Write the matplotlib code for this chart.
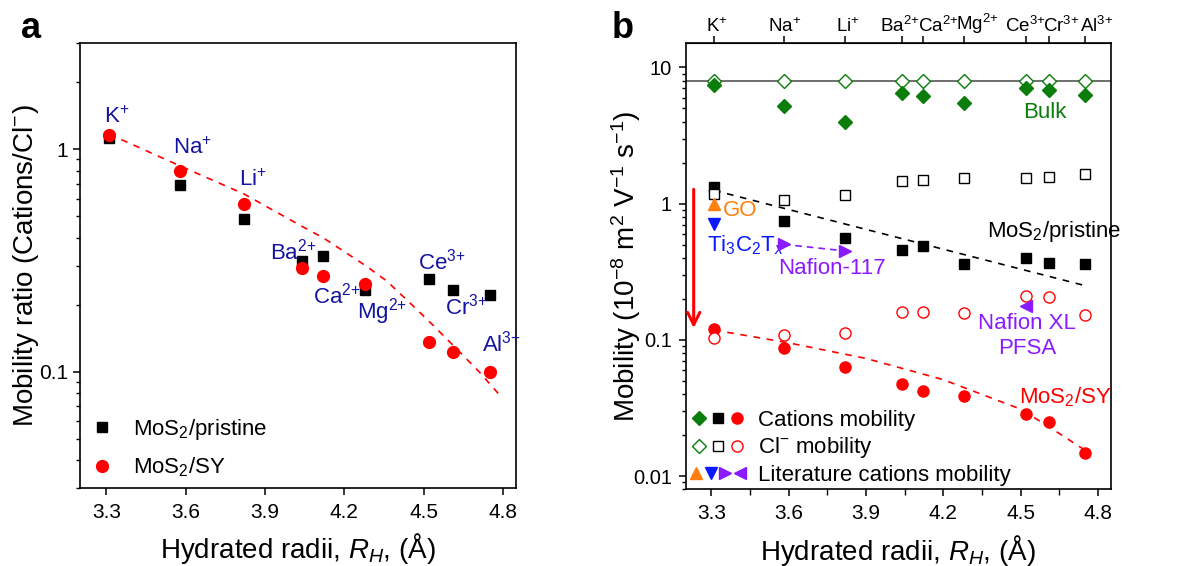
import matplotlib
matplotlib.use("Agg")
import matplotlib.pyplot as plt
from matplotlib.legend_handler import HandlerTuple
from matplotlib.ticker import FixedLocator, NullFormatter, FuncFormatter
from matplotlib.transforms import ScaledTranslation

plt.rcParams["font.family"] = ["Liberation Sans", "DejaVu Sans"]
plt.rcParams["mathtext.fontset"] = "custom"
plt.rcParams["mathtext.rm"] = "Liberation Sans"
plt.rcParams["mathtext.it"] = "Liberation Sans:italic"
plt.rcParams["mathtext.bf"] = "Liberation Sans:bold"

# ---- data ----
ions = ["K$^{\\text{+}}$", "Na$^{\\text{+}}$", "Li$^{\\text{+}}$",
        "Ba$^{\\text{2+}}$", "Ca$^{\\text{2+}}$", "Mg$^{\\text{2+}}$",
        "Ce$^{\\text{3+}}$", "Cr$^{\\text{3+}}$", "Al$^{\\text{3+}}$"]
radii = [3.31, 3.58, 3.82, 4.04, 4.12, 4.28, 4.52, 4.61, 4.75]

# panel a: mobility ratio cations / Cl-
ratio_pristine = [1.12, 0.69, 0.485, 0.315, 0.33, 0.233, 0.262, 0.234, 0.221]
ratio_sy = [1.16, 0.80, 0.57, 0.294, 0.268, 0.247, 0.1355, 0.1226, 0.100]
fit_a_x = [3.31, 3.58, 3.82, 4.04, 4.12, 4.28, 4.36, 4.45, 4.54, 4.63, 4.71, 4.79]
fit_a_y = [1.17, 0.84, 0.63, 0.45, 0.40, 0.30, 0.256, 0.203, 0.160, 0.125, 0.100, 0.078]
# label anchor positions for the ion names in panel a
ion_lab_x = [3.29, 3.552, 3.803, 3.92, 4.082, 4.248, 4.479, 4.581, 4.72]
ion_lab_y = [1.40, 1.01, 0.726, 0.346, 0.221, 0.186, 0.312, 0.196, 0.134]

# panel b: mobilities (1e-8 m2 V-1 s-1)
bulk_cation = [7.46, 5.16, 3.97, 6.49, 6.13, 5.47, 7.06, 6.86, 6.30]
bulk_cl = [7.9] * 9
bulk_line = 7.9
pristine_cation = [1.32, 0.74, 0.558, 0.459, 0.488, 0.362, 0.401, 0.366, 0.362]
pristine_cl = [1.18, 1.07, 1.16, 1.47, 1.48, 1.54, 1.54, 1.57, 1.66]
sy_cation = [0.120, 0.087, 0.0637, 0.0472, 0.0422, 0.0388, 0.0286, 0.0248, 0.0149]
sy_cl = [0.104, 0.109, 0.113, 0.160, 0.159, 0.157, 0.211, 0.205, 0.151]
fit_pristine_x = [3.31, 4.75]
fit_pristine_y = [1.25, 0.25]
fit_sy_x = [3.31, 3.6, 3.9, 4.2, 4.5, 4.61, 4.75]
fit_sy_y = [0.118, 0.095, 0.073, 0.051, 0.031, 0.023, 0.0155]

# literature cation mobilities
go_xy = (3.31, 1.00)
ti3c2tx_xy = (3.31, 0.713)
nafion117_x = [3.58, 3.82]
nafion117_y = [0.502, 0.449]
nafionxl_xy = (4.52, 0.176)

# top-axis labels are nudged sideways in the original so they don't collide (points)
top_label_shift = [2, 1, 1.5, -1.5, 11, 9.5, 0, 8.5, 8.5]

C_GREEN = "#0a7d0a"
C_RED = "#ff0000"
C_NAVY = "#1414a0"
C_ORANGE = "#ff7f0e"
C_BLUE = "#0a1aff"
C_PURPLE = "#8a1aff"

fig = plt.figure(figsize=(11.79, 5.66), dpi=100)
ax_a = fig.add_axes([0.0679, 0.1378, 0.3698, 0.786])
ax_b = fig.add_axes([0.5816, 0.1355, 0.3605, 0.788])

for ax in (ax_a, ax_b):
    for s in ax.spines.values():
        s.set_linewidth(1.2)
    ax.set_yscale("log")
    ax.set_xlim(3.2, 4.85)
    ax.set_xticks([3.3, 3.6, 3.9, 4.2, 4.5, 4.8])
    ax.xaxis.set_major_formatter(FuncFormatter(lambda v, p: f"{v:.1f}"))
    ax.tick_params(axis="both", which="major", direction="out", length=5,
                   width=1.1, labelsize=15, top=False, right=False)
    ax.tick_params(axis="x", which="major", pad=5.5)
    ax.tick_params(axis="both", which="minor", direction="out", length=3,
                   width=1.0, top=False, right=False)
    ax.yaxis.set_minor_formatter(NullFormatter())
    ax.set_xlabel("Hydrated radii, $R_H$, (Å)", fontsize=20, labelpad=7)

# ---------------- panel a ----------------
ax_a.set_ylim(0.03, 3)
ax_a.yaxis.set_major_locator(FixedLocator([0.1, 1]))
ax_a.yaxis.set_major_formatter(FuncFormatter(lambda v, p: f"{v:g}"))
ax_a.plot(fit_a_x, fit_a_y, ls=(0, (4, 4)), color=C_RED, lw=1.2, zorder=2)
ax_a.plot(radii, ratio_pristine, ls="none", marker="s", ms=7, color="black",
          label="MoS$_2$/pristine", zorder=3)
ax_a.plot(radii, ratio_sy, ls="none", marker="o", ms=8.5, color=C_RED,
          label="MoS$_2$/SY", zorder=4)
for lab, lx, ly in zip(ions, ion_lab_x, ion_lab_y):
    ax_a.text(lx, ly, lab, color=C_NAVY, fontsize=16, ha="left", va="center")
ax_a.set_ylabel("Mobility ratio (Cations/Cl$^{-}$)", fontsize=20)
ax_a.yaxis.set_label_coords(-0.089, 0.5)
ax_a.legend(loc="lower left", bbox_to_anchor=(0.0, 0.02), frameon=False,
            fontsize=16, numpoints=1, handlelength=2.0, handletextpad=0.4,
            labelspacing=0.6, borderpad=0, borderaxespad=0)

# ---------------- panel b ----------------
ax_b.set_ylim(0.008, 15)
ax_b.yaxis.set_major_locator(FixedLocator([0.01, 0.1, 1, 10]))
ax_b.yaxis.set_major_formatter(FuncFormatter(lambda v, p: f"{v:g}"))
ax_b.tick_params(axis="y", which="major", labelsize=14.5, pad=5)
ax_b.set_xticks([3.45, 3.75, 4.05, 4.35, 4.65], minor=True)
ax_b.tick_params(axis="x", which="minor", length=4)

ax_b.axhline(bulk_line, color="#555555", lw=1.2, zorder=1)
ax_b.plot(fit_pristine_x, fit_pristine_y, ls=(0, (4, 4)), color="black", lw=1.2, zorder=2)
ax_b.plot(fit_sy_x, fit_sy_y, ls=(0, (4, 4)), color=C_RED, lw=1.2, zorder=2)

h_gd, = ax_b.plot(radii, bulk_cation, ls="none", marker="D", ms=7, color=C_GREEN, zorder=3)
h_od, = ax_b.plot(radii, bulk_cl, ls="none", marker="D", ms=7, mfc="white",
                  mec=C_GREEN, mew=1.0, color=C_GREEN, zorder=2.5)
h_bs, = ax_b.plot(radii, pristine_cation, ls="none", marker="s", ms=7, color="black", zorder=3)
h_os, = ax_b.plot(radii, pristine_cl, ls="none", marker="s", ms=7, mfc="white",
                  mec="black", mew=1.0, zorder=3.5)
h_rc, = ax_b.plot(radii, sy_cation, ls="none", marker="o", ms=8, color=C_RED, zorder=3)
h_oc, = ax_b.plot(radii, sy_cl, ls="none", marker="o", ms=8, mfc="white",
                  mec=C_RED, mew=1.0, zorder=3)

h_go, = ax_b.plot(*go_xy, ls="none", marker="^", ms=8, color=C_ORANGE, zorder=4)
h_ti, = ax_b.plot(*ti3c2tx_xy, ls="none", marker="v", ms=8, color=C_BLUE, zorder=4)
ax_b.plot(nafion117_x, nafion117_y, ls=(0, (4, 3)), color=C_PURPLE, lw=1.2, zorder=3)
h_nr, = ax_b.plot(nafion117_x, nafion117_y, ls="none", marker=">", ms=8,
                  color=C_PURPLE, zorder=4)
h_nl, = ax_b.plot(*nafionxl_xy, ls="none", marker="<", ms=8, color=C_PURPLE, zorder=4)

ax_b.annotate("", xy=(3.231, 0.122), xytext=(3.231, 1.27),
              arrowprops=dict(arrowstyle="->", color=C_RED, lw=2.2,
                              mutation_scale=22, shrinkA=0, shrinkB=0))

ax_b.text(3.345, 0.893, "GO", color=C_ORANGE, fontsize=16, ha="left", va="center")
ax_b.text(3.283, 0.494, "Ti$_3$C$_2$T$_x$", color=C_BLUE, fontsize=16,
          ha="left", va="center")
ax_b.text(3.56, 0.336, "Nafion-117", color=C_PURPLE, fontsize=16,
          ha="left", va="center")
ax_b.text(4.525, 0.107, "Nafion XL\nPFSA", color=C_PURPLE, fontsize=16,
          ha="center", va="center", linespacing=1.25)
ax_b.text(4.51, 4.62, "Bulk", color=C_GREEN, fontsize=16, ha="left", va="center")
ax_b.text(4.37, 0.626, "MoS$_2$/pristine", color="black", fontsize=16,
          ha="left", va="center")
ax_b.text(4.495, 0.038, "MoS$_2$/SY", color=C_RED, fontsize=16,
          ha="left", va="center")

ax_b.set_ylabel("Mobility (10$^{-8}$ m$^2$ V$^{-1}$ s$^{-1}$)", fontsize=20)
ax_b.yaxis.set_label_coords(-0.100, 0.5)

top = ax_b.secondary_xaxis("top")
top.set_xticks(radii)
top.set_xticklabels(ions)
top.tick_params(direction="out", length=5, width=1.1, labelsize=13.5, pad=0)
top.xaxis.set_minor_locator(FixedLocator([]))
for lab, dx in zip(top.get_xticklabels(), top_label_shift):
    lab.set_transform(lab.get_transform()
                      + ScaledTranslation(dx / 72, 0, fig.dpi_scale_trans))

leg_handles = [(h_gd, h_bs, h_rc), (h_od, h_os, h_oc), (h_go, h_ti, h_nr, h_nl)]
leg_labels = ["Cations mobility", "Cl$^{-}$ mobility", "Literature cations mobility"]
ax_b.legend(leg_handles, leg_labels, loc="lower left", bbox_to_anchor=(0.008, 0.008),
            frameon=False, fontsize=16, numpoints=1, handlelength=2.6,
            handletextpad=0.5, labelspacing=0.2, borderpad=0, borderaxespad=0,
            handler_map={tuple: HandlerTuple(ndivide=None, pad=0)})

fig.text(0.018, 0.95, "a", fontsize=26, fontweight="bold", ha="left", va="center")
fig.text(0.519, 0.95, "b", fontsize=26, fontweight="bold", ha="left", va="center")

fig.savefig("out.png", dpi=100)
